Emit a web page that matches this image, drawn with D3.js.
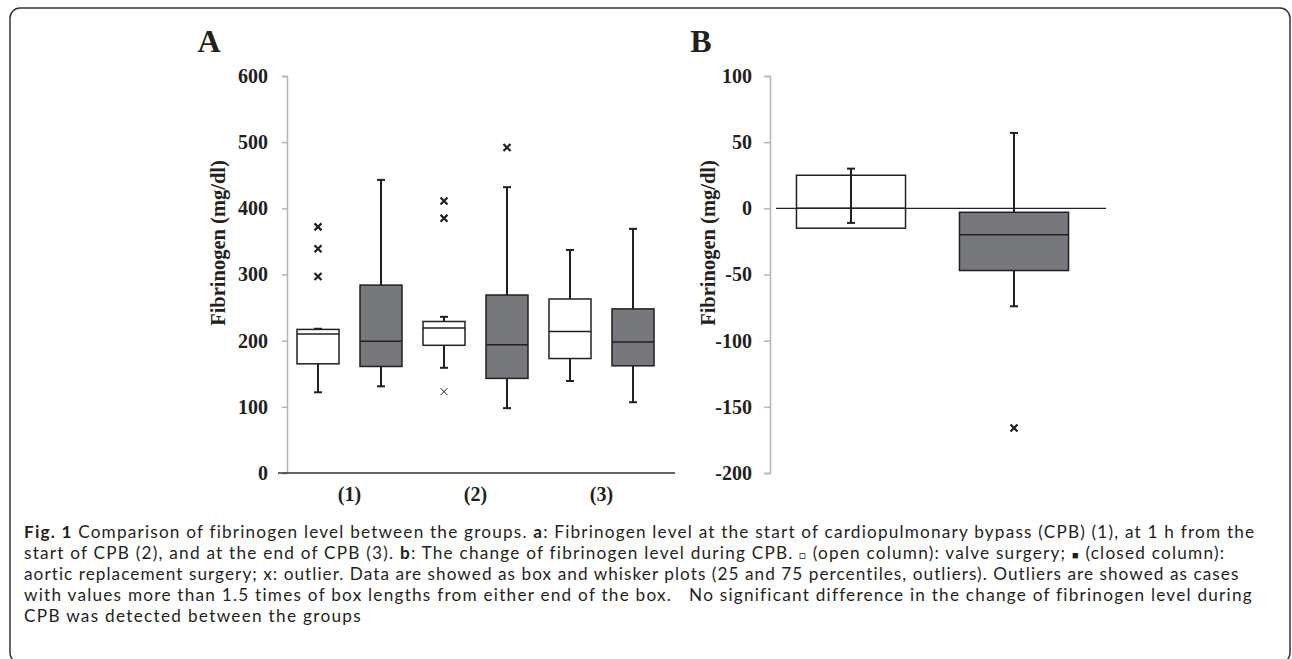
<!DOCTYPE html>
<html>
<head>
<meta charset="utf-8">
<script src="https://cdn.jsdelivr.net/npm/d3@7"></script>
<style>
  body { margin: 0; background: #fff; }
  svg { display: block; }
  .serif { font-family: "Liberation Serif", "Times New Roman", serif; font-weight: bold; fill: #231f20; }
  .caption { font-family: Lato, "Open Sans", sans-serif; font-size: 16px; fill: #231f20; white-space: pre; }
</style>
</head>
<body>
<svg width="1292" height="659"></svg>
<script>
// panel A: fibrinogen level at three time points
const categoriesA = ["(1)", "(2)", "(3)"];
const seriesNames = ["valve", "aortic"];

const valveLow = [122, 159, 139];
const valveQ1 = [165, 193, 173];
const valveMedian = [210, 219, 214];
const valveQ3 = [217, 229, 263];
const valveHigh = [218, 236, 337];
const valveOutliers = [[297, 339, 372], [123, 385, 411], []];

const aorticLow = [131, 98, 107];
const aorticQ1 = [161, 143, 162];
const aorticMedian = [199, 194, 198];
const aorticQ3 = [284, 269, 248];
const aorticHigh = [443, 432, 369];
const aorticOutliers = [[], [492], []];

const ticksA = [0, 100, 200, 300, 400, 500, 600];

// panel B: change during CPB
const changeLow = [-11, -74];
const changeQ1 = [-15, -47];
const changeMedian = [0, -20];
const changeQ3 = [25, -3];
const changeHigh = [30, 57];
const changeOutliers = [[], [-166]];

const ticksB = [-200, -150, -100, -50, 0, 50, 100];

const captionLines = [
  [["Fig. 1", true], [" Comparison of fibrinogen level between the groups. ", false], ["a", true],
   [": Fibrinogen level at the start of cardiopulmonary bypass (CPB) (1), at 1 h from the", false]],
  [["start of CPB (2), and at the end of CPB (3). ", false], ["b", true],
   [": The change of fibrinogen level during CPB. ", false], ["\u25A1", "sym"], [" (open column): valve surgery; ", false],
   ["\u25A0", "sym"], [" (closed column):", false]],
  [["aortic replacement surgery; x: outlier. Data are showed as box and whisker plots (25 and 75 percentiles, outliers). Outliers are showed as cases", false]],
  [["with values more than 1.5 times of box lengths from either end of the box.   No significant difference in the change of fibrinogen level during", false]],
  [["CPB was detected between the groups", false]]
];
const captionWidths = [1231, 1201, 1216, 1228, 338];

const svg = d3.select("svg");
const ink = "#231f20";
const boxFill = { valve: "#ffffff", aortic: "#77787b" };
const plain = (d) => String(d);

// outer frame
svg.append("rect")
  .attr("x", 10).attr("y", 8).attr("width", 1280).attr("height", 655).attr("rx", 10)
  .attr("fill", "none").attr("stroke", "#333").attr("stroke-width", 1.5);

function cross(g, cx, cy, r, w) {
  g.append("path")
    .attr("d", `M${cx - r},${cy - r}L${cx + r},${cy + r}M${cx - r},${cy + r}L${cx + r},${cy - r}`)
    .attr("stroke", ink).attr("stroke-width", w);
}

function drawBox(g, cx, bw, y, s, fill, thinLow) {
  // whisker
  g.append("line").attr("x1", cx).attr("x2", cx)
    .attr("y1", y(s.low)).attr("y2", y(s.high))
    .attr("stroke", ink).attr("stroke-width", 2);
  [s.low, s.high].forEach((v) => {
    g.append("line").attr("x1", cx - 4).attr("x2", cx + 4)
      .attr("y1", y(v)).attr("y2", y(v))
      .attr("stroke", ink).attr("stroke-width", 2);
  });
  g.append("rect")
    .attr("x", cx - bw / 2).attr("width", bw)
    .attr("y", y(s.q3)).attr("height", y(s.q1) - y(s.q3))
    .attr("fill", fill).attr("stroke", ink).attr("stroke-width", 1.5);
  g.append("line").attr("x1", cx - bw / 2).attr("x2", cx + bw / 2)
    .attr("y1", y(s.median)).attr("y2", y(s.median))
    .attr("stroke", ink).attr("stroke-width", 1.5);
  s.outliers.forEach((v) => {
    const thin = thinLow && v < s.q1;
    cross(g, cx, y(v), 3.5, thin ? 1 : 2.2);
  });
}

// ---------- panel A ----------
const yA = d3.scaleLinear().domain([0, 600]).range([473, 76]);
const xA = d3.scaleBand().domain(categoriesA).range([286.5, 664.5]).padding(0);
const xInner = d3.scaleBand().domain(seriesNames).range([0, xA.bandwidth()])
  .paddingInner(1 / 3).paddingOuter(1 / 6);

const gA = svg.append("g");

gA.append("g")
  .attr("transform", "translate(287,0)")
  .call(d3.axisLeft(yA).tickValues(ticksA).tickFormat(plain).tickSize(5).tickPadding(14))
  .call((g) => g.selectAll("path, line").attr("stroke", "#b5b5b5").attr("stroke-width", 1.5))
  .call((g) => g.selectAll("text").attr("class", "serif").attr("font-size", 20).attr("fill", ink));

// x axis line
gA.append("line")
  .attr("x1", 278).attr("x2", 675).attr("y1", yA(0)).attr("y2", yA(0))
  .attr("stroke", "#333").attr("stroke-width", 1.5);

gA.append("g")
  .attr("transform", `translate(0,${yA(0)})`)
  .call(d3.axisBottom(xA).tickSize(0).tickPadding(14))
  .call((g) => g.select(".domain").remove())
  .call((g) => g.selectAll("text").attr("class", "serif").attr("font-size", 20).attr("fill", ink));

categoriesA.forEach((c, i) => {
  const stats = {
    valve: { low: valveLow[i], q1: valveQ1[i], median: valveMedian[i], q3: valveQ3[i], high: valveHigh[i], outliers: valveOutliers[i] },
    aortic: { low: aorticLow[i], q1: aorticQ1[i], median: aorticMedian[i], q3: aorticQ3[i], high: aorticHigh[i], outliers: aorticOutliers[i] }
  };
  seriesNames.forEach((sName) => {
    const cx = xA(c) + xInner(sName) + xInner.bandwidth() / 2;
    drawBox(gA, cx, xInner.bandwidth(), yA, stats[sName], boxFill[sName], true);
  });
});

gA.append("text").attr("class", "serif").attr("font-size", 20.5)
  .attr("text-anchor", "middle").attr("dy", "0.35em")
  .attr("transform", "translate(218,243) rotate(-90)")
  .text("Fibrinogen (mg/dl)");

svg.append("text").attr("class", "serif").attr("font-size", 32)
  .attr("x", 209).attr("y", 52).attr("text-anchor", "middle").text("A");

// ---------- panel B ----------
const yB = d3.scaleLinear().domain([-200, 100]).range([473, 76]);
const xB = d3.scaleBand().domain(seriesNames).range([769.5, 1095.5])
  .paddingInner(0.331).paddingOuter(0.1655);

const gB = svg.append("g");

gB.append("g")
  .attr("transform", "translate(770,0)")
  .call(d3.axisLeft(yB).tickValues(ticksB).tickFormat(plain).tickSize(6).tickPadding(12))
  .call((g) => g.selectAll("path, line").attr("stroke", "#b5b5b5").attr("stroke-width", 1.5))
  .call((g) => g.selectAll("text").attr("class", "serif").attr("font-size", 20).attr("fill", ink));

gB.append("line")
  .attr("x1", 776).attr("x2", 1106).attr("y1", yB(0)).attr("y2", yB(0))
  .attr("stroke", ink).attr("stroke-width", 1.2);

seriesNames.forEach((sName, i) => {
  const s = { low: changeLow[i], q1: changeQ1[i], median: changeMedian[i], q3: changeQ3[i], high: changeHigh[i], outliers: changeOutliers[i] };
  const cx = xB(sName) + xB.bandwidth() / 2;
  drawBox(gB, cx, xB.bandwidth(), yB, s, sName === "valve" ? "none" : boxFill[sName], false);
});

gB.append("text").attr("class", "serif").attr("font-size", 20.5)
  .attr("text-anchor", "middle").attr("dy", "0.35em")
  .attr("transform", "translate(708,243) rotate(-90)")
  .text("Fibrinogen (mg/dl)");

svg.append("text").attr("class", "serif").attr("font-size", 32)
  .attr("x", 701).attr("y", 52).attr("text-anchor", "middle").text("B");

// ---------- caption ----------
// each styled piece is its own text element, laid out left to right
const cap = svg.append("g");
const pieceStyle = (t, style, size) => {
  t.style("font-size", (style === "sym" ? 11 : size) + "px");
  if (style === true) t.attr("font-weight", "bold");
  if (style === "sym") t.attr("font-family", "DejaVu Sans");
};

// font size from the first line's natural width
const probe = cap.append("text").attr("class", "caption");
let probeLen = 0;
captionLines[0].forEach(([str, style]) => {
  probe.text(str); pieceStyle(probe, style, 16);
  probeLen += probe.node().getComputedTextLength();
  probe.attr("font-weight", null).attr("font-family", null);
});
probe.remove();
const capSize = Math.min(17.2, 16 * captionWidths[0] / probeLen);

captionLines.forEach((parts, i) => {
  const y = 538 + i * 21;
  const pieces = parts.map(([str, style]) => {
    const t = cap.append("text").attr("class", "caption").attr("y", y).text(str);
    pieceStyle(t, style, capSize);
    return t;
  });
  const natural = d3.sum(pieces, (t) => t.node().getComputedTextLength());
  const nChars = d3.sum(parts, (p) => p[0].length);
  const ls = (captionWidths[i] - natural) / nChars;
  let x = 24;
  pieces.forEach((t) => {
    t.style("letter-spacing", ls + "px").attr("x", x);
    x += t.node().getComputedTextLength();
  });
});
</script>
</body>
</html>
